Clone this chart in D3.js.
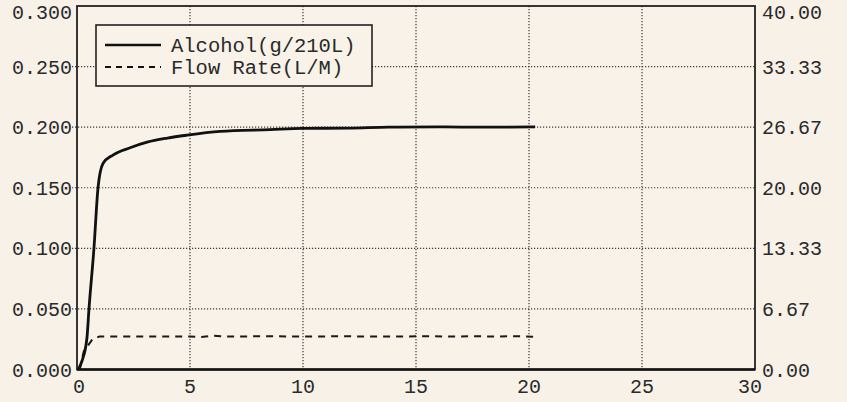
<!DOCTYPE html>
<html>
<head>
<meta charset="utf-8">
<script src="https://cdn.jsdelivr.net/npm/d3@7/dist/d3.min.js"></script>
<style>
  html, body { margin: 0; padding: 0; background: #f7f1e8; }
  svg { display: block; }
  text { font-family: "Liberation Mono", "Courier New", monospace; fill: #2a2a2a; }
</style>
</head>
<body>
<svg id="chart" width="847" height="402"></svg>
<script>
// ---- data ----
const alcoholTime = [0.05, 0.22, 0.44, 0.53, 0.75, 0.93, 1.15, 1.59, 2.35, 3.1, 4.0, 4.87, 6.33, 8.54, 9.96, 12.0, 13.8, 16.0, 18.0, 20.27];
const alcoholValue = [0.000, 0.007, 0.026, 0.050, 0.100, 0.150, 0.170, 0.177, 0.183, 0.1876, 0.191, 0.1934, 0.1965, 0.198, 0.199, 0.1992, 0.2000, 0.2002, 0.2000, 0.2002];

const flowTime = [0.12, 0.3, 0.72, 1.0, 2.0, 3.0, 4.0, 5.0, 5.5, 6.0, 6.6, 7.5, 8.5, 9.5, 10.5, 11.5, 12.5, 13.5, 14.5, 15.5, 16.5, 17.5, 18.5, 19.5, 20.27];
const flowValue = [0.0, 2.0, 3.45, 3.62, 3.64, 3.64, 3.63, 3.62, 3.58, 3.72, 3.62, 3.64, 3.66, 3.63, 3.62, 3.66, 3.64, 3.63, 3.64, 3.66, 3.62, 3.66, 3.63, 3.66, 3.60];

const xTicks = [0, 5, 10, 15, 20, 25, 30];
const leftTicks = [0, 0.05, 0.10, 0.15, 0.20, 0.25, 0.30];
const leftTickLabels = ["0.000", "0.050", "0.100", "0.150", "0.200", "0.250", "0.300"];
const rightTickLabels = ["0.00", "6.67", "13.33", "20.00", "26.67", "33.33", "40.00"];
const legendLabels = ["Alcohol(g/210L)", "Flow Rate(L/M)"];

// ---- layout ----
const svg = d3.select("#chart");
const L = 77, R = 755, T = 6, B = 369.5;

const x = d3.scaleLinear().domain([0, 30]).range([L, R]);
const yL = d3.scaleLinear().domain([0, 0.30]).range([B, T]);
const yR = d3.scaleLinear().domain([0, 40]).range([B, T]);

// background of plot
svg.append("rect").attr("x", L).attr("y", T).attr("width", R - L).attr("height", B - T)
  .attr("fill", "#f8f2e9");

// grid lines
const grid = svg.append("g").attr("stroke", "#3a3a3a").attr("stroke-width", 1.2)
  .attr("stroke-dasharray", "1.2,1.8");
xTicks.filter(d => d > 0 && d < 30).forEach(d => {
  grid.append("line").attr("x1", x(d)).attr("x2", x(d)).attr("y1", T).attr("y2", B);
});
leftTicks.filter(d => d > 0 && d < 0.30).forEach(d => {
  grid.append("line").attr("x1", L - 5).attr("x2", R).attr("y1", yL(d)).attr("y2", yL(d));
});

// series
const lineAlc = d3.line().x((d, i) => x(alcoholTime[i])).y(d => yL(d)).curve(d3.curveMonotoneX);
const lineFlow = d3.line().x((d, i) => x(flowTime[i])).y(d => yR(d)).curve(d3.curveLinear);

svg.append("path").attr("d", lineFlow(flowValue)).attr("fill", "none")
  .attr("stroke", "#1a1a1a").attr("stroke-width", 2).attr("stroke-dasharray", "7,6");
svg.append("path").attr("d", lineAlc(alcoholValue)).attr("fill", "none")
  .attr("stroke", "#111").attr("stroke-width", 2.8).attr("stroke-linejoin", "round");

// frame
svg.append("rect").attr("x", L).attr("y", T).attr("width", R - L).attr("height", B - T)
  .attr("fill", "none").attr("stroke", "#222").attr("stroke-width", 1.8);
svg.append("line").attr("x1", L).attr("x2", R).attr("y1", B).attr("y2", B)
  .attr("stroke", "#111").attr("stroke-width", 2.5);

// left labels
svg.append("g").selectAll("text").data(leftTicks).join("text")
  .attr("x", 72).attr("y", d => Math.max(yL(d), 12))
  .attr("dy", "0.35em").attr("text-anchor", "end").attr("font-size", 20)
  .text((d, i) => leftTickLabels[i]);

// right labels
svg.append("g").selectAll("text").data(leftTicks).join("text")
  .attr("x", 762).attr("y", d => Math.max(yL(d), 12))
  .attr("dy", "0.35em").attr("text-anchor", "start").attr("font-size", 20)
  .text((d, i) => rightTickLabels[i]);

// bottom labels
svg.append("g").selectAll("text").data(xTicks).join("text")
  .attr("x", d => d === 30 ? x(d) - 5 : x(d) + (d === 0 ? 2 : 0)).attr("y", 393)
  .attr("text-anchor", "middle").attr("font-size", 20)
  .text(d => d);

// legend
const lg = svg.append("g");
lg.append("rect").attr("x", 96).attr("y", 25).attr("width", 276).attr("height", 61)
  .attr("fill", "#f8f2e9").attr("stroke", "#222").attr("stroke-width", 1.6);
lg.append("line").attr("x1", 105).attr("x2", 161).attr("y1", 45).attr("y2", 45)
  .attr("stroke", "#111").attr("stroke-width", 2.5);
lg.append("line").attr("x1", 105).attr("x2", 161).attr("y1", 67).attr("y2", 67)
  .attr("stroke", "#111").attr("stroke-width", 1.8).attr("stroke-dasharray", "6,5");
lg.append("text").attr("x", 171).attr("y", 52).attr("font-size", 20.5).text(legendLabels[0]);
lg.append("text").attr("x", 171).attr("y", 73.5).attr("font-size", 20.5).text(legendLabels[1]);
</script>
</body>
</html>
